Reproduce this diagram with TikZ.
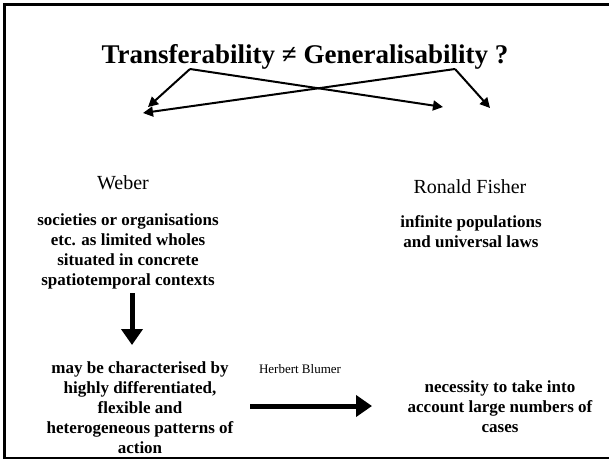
\documentclass[tikz,border=0pt]{standalone}
\usepackage{fontspec}
\setmainfont{Liberation Serif}
\usetikzlibrary{arrows.meta}

\tikzset{
  person/.style={font=\fontsize{20}{24}\selectfont, inner sep=0pt},
  bodytext/.style={font=\bfseries\fontsize{17}{20}\selectfont, align=center, inner sep=0pt},
  thin arrow/.style={line width=2pt, -{Triangle[length=10pt,width=10pt]}},
  fat arrow/.style={line width=5pt, -{Triangle[length=16pt,width=21pt]}}
}

\begin{document}
\begin{tikzpicture}[x=1pt, y=-1pt]
        \useasboundingbox (0,0) rectangle (609,461);
        \draw[line width=2.5pt] (620,4.5) -- (4.5,4.5) -- (4.5,458) -- (620,458); % frame
        \node[font=\bfseries\fontsize{27}{31}\selectfont, inner sep=0pt] (title) at (305,57) {Transferability ≠ Generalisability ?};
        \coordinate (tl) at (190,69);
        \coordinate (tr) at (455,69);
        \coordinate (wl) at (148,107);
        \coordinate (wr) at (143,113);
        \coordinate (fl) at (443,107);
        \coordinate (fr) at (490,108);
        \draw[thin arrow] (tl) -- (wl);
        \draw[thin arrow] (tl) -- (fl);
        \draw[thin arrow] (tr) -- (wr);
        \draw[thin arrow] (tr) -- (fr);
        \node[person] (weber) at (123,183) {Weber};
        \node[person] (fisher) at (470,187) {Ronald Fisher};
        \node[bodytext] (wholes) at (128,251) {societies or organisations\\etc. as limited wholes\\situated in concrete\\spatiotemporal contexts};
        \node[bodytext] (laws) at (471,232) {infinite populations\\ and universal laws};
        \node[bodytext] (action) at (140,408) {may be characterised by\\highly differentiated,\\flexible and\\heterogeneous patterns of\\action};
        \node[bodytext] (cases) at (500,407) {necessity to take into\\account large numbers of\\cases};
        \node[font=\fontsize{13}{15}\selectfont, inner sep=0pt] (blumer) at (300,369) {Herbert Blumer};
        \coordinate (downtop) at (132,293);
        \coordinate (down) at (132,345);
        \coordinate (righttail) at (250,406);
        \coordinate (right) at (372,406);
        \draw[fat arrow] (downtop) -- (down);
        \draw[fat arrow] (righttail) -- (right);
    \end{tikzpicture}
\end{document}
